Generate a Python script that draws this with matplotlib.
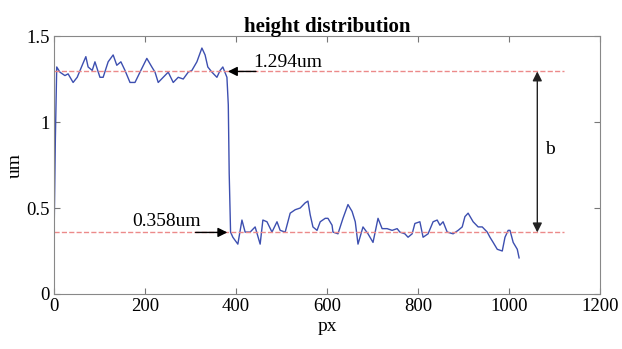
import matplotlib
matplotlib.use("Agg")
import matplotlib.pyplot as plt

# profile
px = [0, 3, 6, 13, 24, 31, 42, 51, 62, 70, 75, 84, 90, 101, 108, 119, 130, 138,
      147, 156, 167, 178, 189, 204, 215, 222, 229, 240, 251, 262, 273, 284, 295,
      303, 314, 325, 332, 338, 347, 358, 365, 371, 380, 383, 385, 388,
      393, 404, 413, 420, 431, 442, 453, 459, 468, 479, 490, 497, 508, 519, 530,
      541, 552, 558, 563, 569, 578, 585, 596, 602, 611, 613, 624, 635, 646, 655,
      662, 668, 679, 690, 701, 712, 721, 732, 743, 754, 760, 771, 778, 787, 793,
      804, 811, 822, 833, 842, 848, 855, 864, 877, 888, 897, 903, 910, 921, 932,
      941, 952, 958, 965, 974, 985, 991, 998, 1002, 1009, 1018, 1022]
height = [0.30, 0.90, 1.32, 1.29, 1.27, 1.28, 1.23, 1.26, 1.33, 1.38, 1.32, 1.30,
          1.35, 1.26, 1.26, 1.35, 1.39, 1.33, 1.35, 1.30, 1.23, 1.23, 1.29, 1.37,
          1.32, 1.29, 1.23, 1.26, 1.29, 1.23, 1.26, 1.25, 1.29, 1.30, 1.35, 1.43,
          1.39, 1.32, 1.29, 1.26, 1.30, 1.32, 1.26, 1.10, 0.70, 0.36,
          0.33, 0.29, 0.43, 0.36, 0.36, 0.39, 0.29, 0.43, 0.42, 0.36, 0.42, 0.37,
          0.36, 0.47, 0.49, 0.50, 0.53, 0.54, 0.46, 0.39, 0.37, 0.42, 0.44, 0.44,
          0.40, 0.36, 0.35, 0.44, 0.52, 0.48, 0.42, 0.29, 0.39, 0.35, 0.30, 0.44,
          0.38, 0.38, 0.37, 0.38, 0.36, 0.35, 0.33, 0.35, 0.41, 0.42, 0.33, 0.35,
          0.42, 0.43, 0.40, 0.42, 0.36, 0.35, 0.37, 0.39, 0.45, 0.47, 0.42, 0.39,
          0.39, 0.36, 0.33, 0.30, 0.26, 0.25, 0.33, 0.37, 0.37, 0.30, 0.26, 0.21]

top_level = 1.294
bottom_level = 0.358
xticks = [0, 200, 400, 600, 800, 1000, 1200]
yticks = [0, 0.5, 1, 1.5]

plt.rcParams['font.family'] = ['Liberation Serif', 'DejaVu Serif']

fig = plt.figure(figsize=(6.22, 3.49), dpi=100)
ax = fig.add_axes([0.0868, 0.1576, 0.878, 0.7392])

ax.plot(px, height, color='#3d4fb0', linewidth=1.0)

# reference levels
ax.plot([0, 1120], [top_level, top_level], '--', color='#ec8a8a', linewidth=1.0)
ax.plot([0, 1120], [bottom_level, bottom_level], '--', color='#ec8a8a', linewidth=1.0)

ax.annotate('', xy=(376, top_level), xytext=(450, top_level),
            arrowprops=dict(arrowstyle='-|>', color='black', lw=1.0, mutation_scale=14))
ax.text(437, 1.345, '%.3fum' % top_level, fontsize=14, va='center', ha='left')

ax.annotate('', xy=(387, bottom_level), xytext=(305, bottom_level),
            arrowprops=dict(arrowstyle='-|>', color='black', lw=1.0, mutation_scale=14))
ax.text(172, 0.42, '%.3fum' % bottom_level, fontsize=14, va='center', ha='left')

ax.annotate('', xy=(1062, top_level), xytext=(1062, bottom_level),
            arrowprops=dict(arrowstyle='<|-|>', color='#222222', lw=1.0,
                            mutation_scale=14, shrinkA=0, shrinkB=0))
ax.text(1080, 0.84, 'b', fontsize=14, va='center', ha='left')

ax.set_xlim(0, 1200)
ax.set_ylim(0, 1.5)
ax.set_xticks(xticks)
ax.set_yticks(yticks)
ax.set_yticklabels(['0', '0.5', '1', '1.5'])
ax.tick_params(direction='in', top=True, right=True, labelsize=13.5,
               length=4, color='#777777', pad=3)
for s in ax.spines.values():
    s.set_color('#888888')

ax.set_xlabel('px', fontsize=14, labelpad=2)
ax.set_ylabel('um', fontsize=14, labelpad=2)
ax.set_title('height distribution', fontsize=15, fontweight='bold', pad=3)

fig.savefig('out.png', dpi=100)
